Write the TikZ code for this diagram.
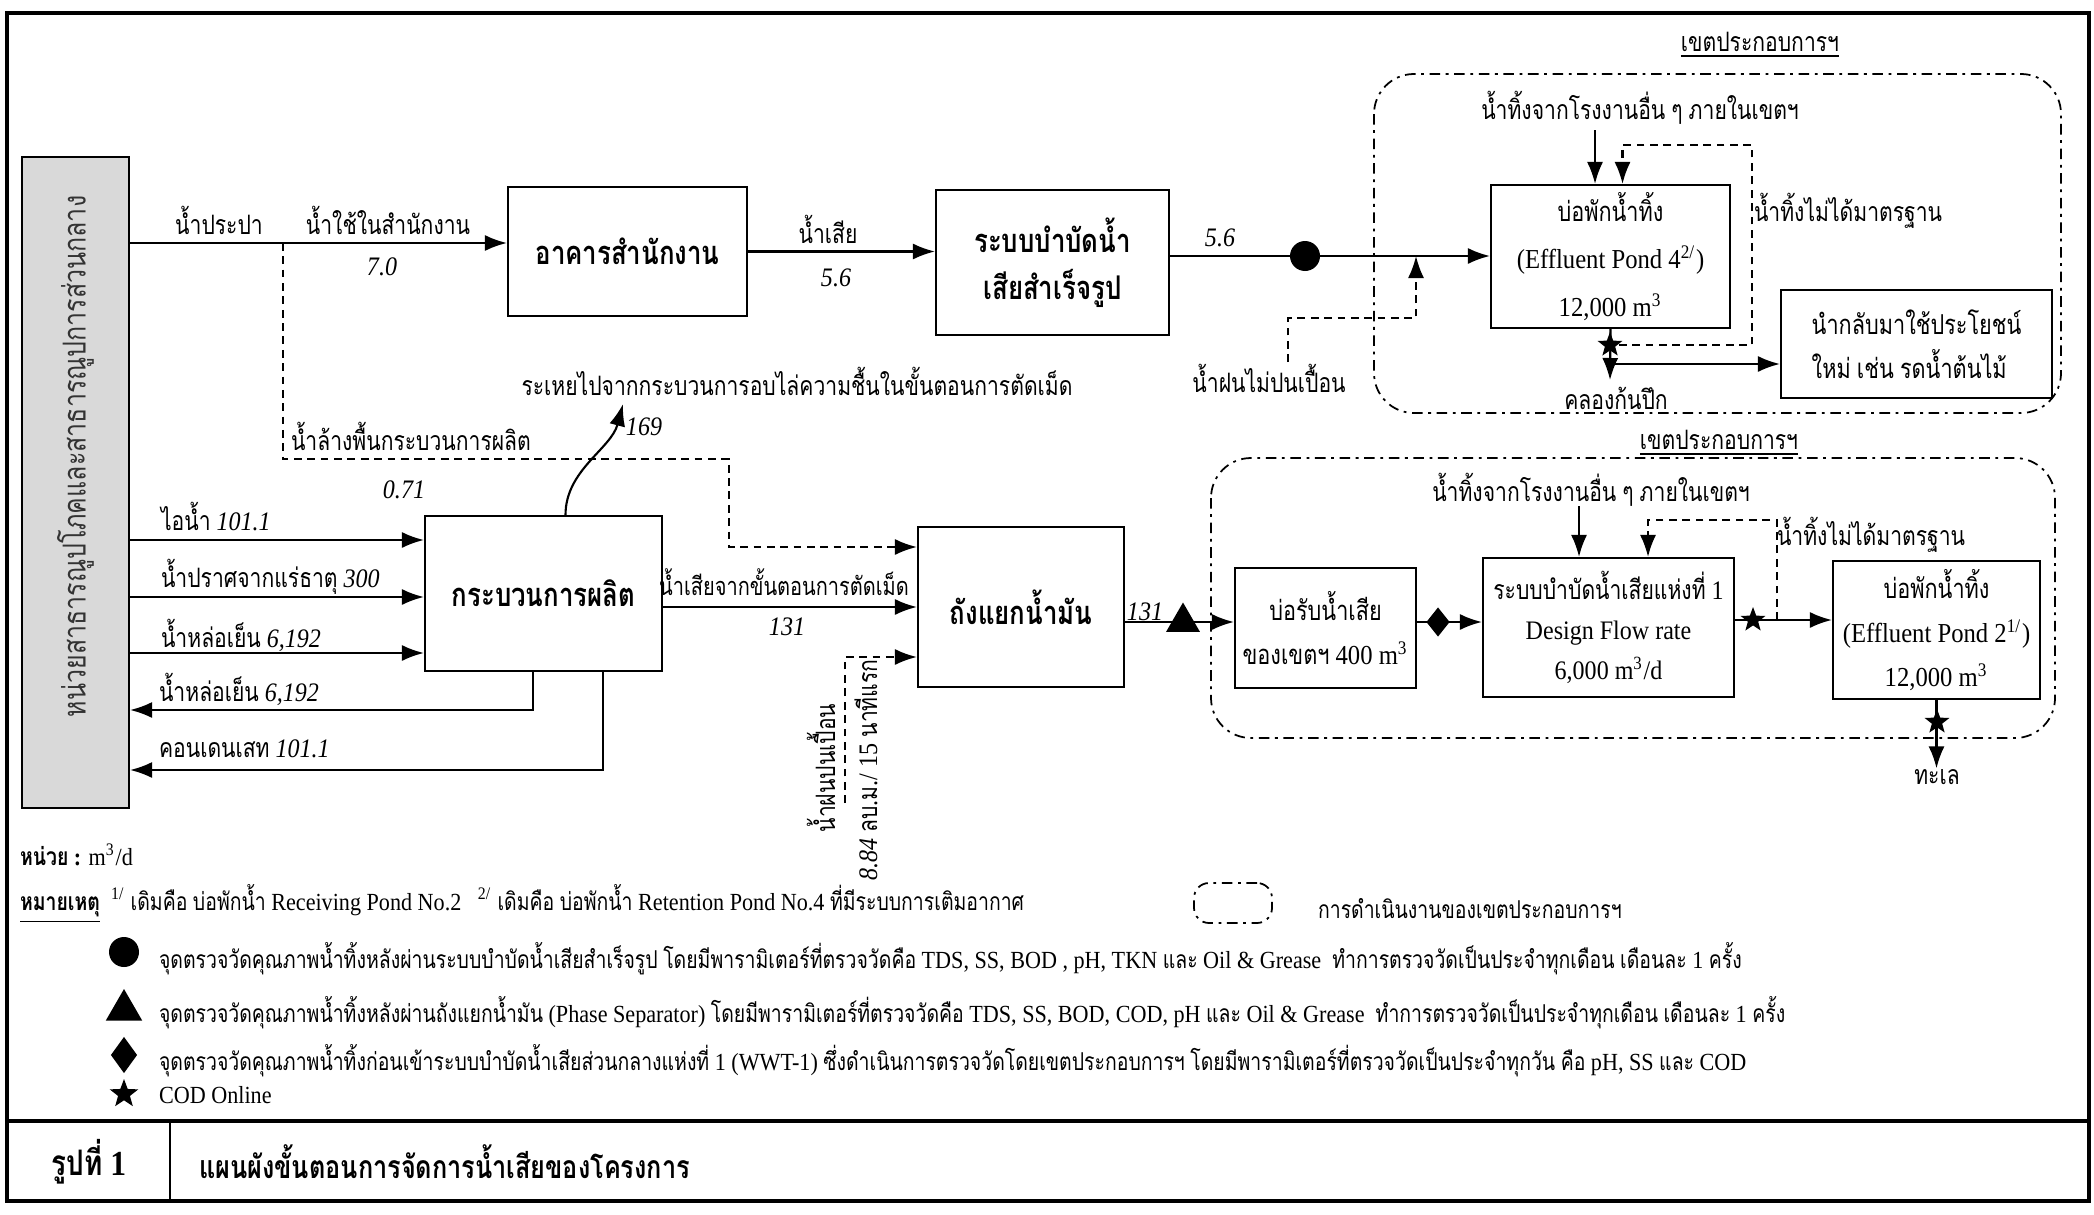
\documentclass[tikz,border=0pt]{standalone}
\usepackage{fontspec}
\setmainfont{Liberation Serif}[FakeStretch=0.9]
\newfontfamily\thaifont[Script=Thai,FakeStretch=0.79]{Loma}
\usetikzlibrary{arrows.meta,shapes.geometric}
% Thai letters switch to the Thai font on their own
\XeTeXinterchartokenstate=1
\newXeTeXintercharclass\thcls
\count255="0E00
\loop\ifnum\count255<"0E80
  \XeTeXcharclass\count255=\thcls
  \advance\count255 by 1
\repeat
\XeTeXinterchartoks 0 \thcls = {\thaifont}
\XeTeXinterchartoks 4095 \thcls = {\thaifont}
\XeTeXinterchartoks \thcls 0 = {\rmfamily}
\XeTeXinterchartoks \thcls 4095 = {\rmfamily}

\tikzset{
  box/.style={draw,line width=0.6pt,inner sep=0pt,align=center},
  boxlbl/.style={font=\bfseries\fontsize{9.3}{13.4}\selectfont},
  boxtxt/.style={font=\fontsize{7.8}{12.4}\selectfont},
  lbl/.style={font=\fontsize{7.6}{9}\selectfont,inner sep=0pt},
  keytxt/.style={font=\fontsize{7}{9}\selectfont,inner sep=0pt,anchor=base west},
  arr/.style={line width=0.6pt,-{Latex[length=2.2mm,width=1.6mm]}},
  darr/.style={arr,dash pattern=on 2.2pt off 1.6pt},
  zone/.style={draw,line width=0.5pt,dash pattern=on 3pt off 1.6pt on 0.8pt off 1.6pt,rounded corners=4mm},
  dot/.style={circle,fill=black,inner sep=0pt,minimum size=3mm},
  trim/.style={regular polygon,regular polygon sides=3,fill=black,inner sep=0pt,minimum size=3.9mm},
  diam/.style={diamond,fill=black,inner sep=0pt,minimum width=2.4mm,minimum height=3mm},
  starm/.style={star,star points=5,star point ratio=2.4,fill=black,inner sep=0pt,minimum size=2.6mm}
}

\begin{document}
\begin{tikzpicture}[x=0.1mm,y=-0.1mm,line width=0.6pt]
\useasboundingbox (0,0) rectangle (2094,1214);
% frame and title bar
\draw[line width=1.4pt] (7,13) rectangle (2089,1201);
\draw[line width=1.4pt] (7,1121) -- (2089,1121);
\draw[line width=0.8pt] (170,1121) -- (170,1201);
\node[font=\bfseries\fontsize{10}{12}\selectfont] (fignum) at (89,1162) {รูปที่ 1};
\node[font=\bfseries\fontsize{9.1}{12}\selectfont,anchor=west,inner sep=0pt] (figttl) at (198,1162) {แผนผังขั้นตอนการจัดการน้ำเสียของโครงการ};

% boxes
\node[box,fill=gray!30,minimum width=10.7mm,minimum height=65.1mm] (util) at (75.5,482.5) {};
\node[font=\fontsize{9}{11}\selectfont,text=black!80,rotate=90] (utiltxt) at ([yshift=2.6mm]util.center) {หน่วยสาธารณูปโภคและสาธารณูปการส่วนกลาง};
\node[box,boxlbl,minimum width=23.9mm,minimum height=12.9mm] (office) at (627.5,251.5) {อาคารสำนักงาน};
\node[box,boxlbl,minimum width=23.3mm,minimum height=14.5mm] (pkg) at (1052.5,262.5) {ระบบบำบัดน้ำ\\เสียสำเร็จรูป};
\node[box,boxtxt,font=\fontsize{7.8}{13.6}\selectfont,minimum width=23.9mm,minimum height=14.3mm] (pond4) at (1610.5,256.5) {บ่อพักน้ำทิ้ง\\(Effluent Pond 4\textsuperscript{2/})\\12,000 m\textsuperscript{3}};
\node[box,boxtxt,align=left,minimum width=27.1mm,minimum height=10.8mm] (reuse) at (1916.5,344) {นำกลับมาใช้ประโยชน์\\ใหม่ เช่น รดน้ำต้นไม้};
\node[box,boxlbl,minimum width=23.7mm,minimum height=15.5mm] (proc) at (543.5,593.5) {กระบวนการผลิต};
\node[box,boxlbl,minimum width=20.6mm,minimum height=16mm] (sep) at (1021,607) {ถังแยกน้ำมัน};
\node[box,boxtxt,minimum width=18.1mm,minimum height=12mm] (recv) at (1325.5,628) {บ่อรับน้ำเสีย\\ของเขตฯ 400 m\textsuperscript{3}};
\node[box,boxtxt,font=\fontsize{7.6}{11.4}\selectfont,minimum width=25.1mm,minimum height=13.9mm] (wwt) at (1608.5,627.5) {ระบบบำบัดน้ำเสียแห่งที่ 1\\Design Flow rate\\6,000 m\textsuperscript{3}/d};
\node[box,boxtxt,minimum width=20.7mm,minimum height=13.8mm] (pond2) at (1936.5,630) {บ่อพักน้ำทิ้ง\\(Effluent Pond 2\textsuperscript{1/})\\12,000 m\textsuperscript{3}};

% zones
\draw[zone] (1374,74) rectangle (2061,413);
\draw[zone] (1211,458) rectangle (2055,738);
\node[lbl] (zoneA) at (1760,45) {\underline{เขตประกอบการฯ}};
\node[lbl] (zoneB) at (1719,443) {\underline{เขตประกอบการฯ}};

% check points
\node[dot] (chkA) at (1305,256) {};
\node[trim] (chkB) at (1183,622) {};
\node[diam] (chkC) at (1438,622) {};
\node[starm] (codA) at (1610,345) {};
\node[starm] (codB) at (1753,620) {};
\node[starm] (codC) at (1937,722) {};

% labels
\node[lbl] (tapLbl) at (219,220) {น้ำประปา};
\node[lbl] (offLbl) at (388,220) {น้ำใช้ในสำนักงาน};
\node[lbl] (v70) at (382,267) {\textit{7.0}};
\node[lbl] (wwLbl) at (828,229) {น้ำเสีย};
\node[lbl] (v56a) at (836,278) {\textit{5.6}};
\node[lbl] (v56b) at (1220,238) {\textit{5.6}};
\node[lbl] (rainLbl) at (1269,378) {น้ำฝนไม่ปนเปื้อน};
\node[lbl] (othA) at (1640,108) {น้ำทิ้งจากโรงงานอื่น ๆ ภายในเขตฯ};
\node[lbl] (badA) at (1848,211) {น้ำทิ้งไม่ได้มาตรฐาน};
\node[lbl] (klong) at (1616,398) {คลองก้นปึก};
\node[lbl] (evap) at (797,381) {ระเหยไปจากกระบวนการอบไล่ความชื้นในขั้นตอนการตัดเม็ด};
\node[lbl] (v169) at (644,427) {\textit{169}};
\node[lbl,anchor=base west] (washLbl) at (290,450) {น้ำล้างพื้นกระบวนการผลิต};
\node[lbl] (v071) at (404,490) {\textit{0.71}};
\node[lbl,anchor=base west] (steam) at (160,530) {ไอน้ำ \textit{101.1}};
\node[lbl,anchor=base west] (demin) at (160,587) {น้ำปราศจากแร่ธาตุ \textit{300}};
\node[lbl,anchor=base west] (coolIn) at (160,647) {น้ำหล่อเย็น \textit{6,192}};
\node[lbl,anchor=base west] (coolOut) at (158,701) {น้ำหล่อเย็น \textit{6,192}};
\node[lbl,anchor=base west] (cond) at (158,757) {คอนเดนเสท \textit{101.1}};
\node[lbl,font=\fontsize{7.2}{9}\selectfont] (cutLbl) at (784,582) {น้ำเสียจากขั้นตอนการตัดเม็ด};
\node[lbl] (v131a) at (787,627) {\textit{131}};
\node[lbl,rotate=90] (rainLowA) at (821,768) {น้ำฝนปนเปื้อน};
\node[lbl,rotate=90] (rainLowB) at (866,770) {\textit{8.84} ลบ.ม./ 15 นาทีแรก};
\node[lbl] (v131b) at (1145,612) {\textit{131}};
\node[lbl] (othB) at (1591,490) {น้ำทิ้งจากโรงงานอื่น ๆ ภายในเขตฯ};
\node[lbl] (badB) at (1871,535) {น้ำทิ้งไม่ได้มาตรฐาน};
\node[lbl] (sea) at (1937,777) {ทะเล};

% office line
\coordinate (tapW) at (283,243);
\draw[arr] (util.east |- tapW) -- (office.west |- tapW);
\draw[arr] (office.east) -- (office.east -| pkg.west);
\draw[arr] (pkg.east |- chkA) -- (pond4.west |- chkA);
\coordinate (rainA) at (1288,362);
\coordinate (rainK) at (1416,318);
\draw[darr] (rainA) |- (rainK) -- (rainK |- chkA);
\coordinate (inA) at (1595,130);
\draw[arr] (inA) -- (inA |- pond4.north);
\coordinate (klongIn) at (1610,380);
\draw[arr] (pond4.south) -- (klongIn);
\coordinate (br4) at (1610,364);
\draw[arr] (br4) -- (br4 -| reuse.west);
\coordinate (lpA) at (1752,145);
\draw[darr] (codA) -| (lpA) -| ([xshift=1.2mm]pond4.north);

% production
\foreach \yy in {540,597,653}
  \draw[arr] (util.east |- 0,\yy) -- (proc.west |- 0,\yy);
\coordinate (coolK) at (533,710);
\coordinate (condK) at (603,770);
\draw[arr] (coolK |- proc.south) |- (util.east |- coolK);
\draw[arr] (condK |- proc.south) |- (util.east |- condK);
\coordinate (evTip) at (623,404);
\draw[arr] ([xshift=2.2mm]proc.north) .. controls +(0,-45) and +(-12,45) .. (evTip);
\coordinate (washK) at (729,459);
\draw[darr] (tapW) |- (washK) |- ([yshift=6mm]sep.west);
\coordinate (rainB) at (845,803);
\draw[darr] (rainB) |- ([yshift=-5mm]sep.west);
\draw[arr] (proc.east |- sep) -- (sep.west);

% central treatment
\draw[arr] (sep.east |- chkB) -- (recv.west |- chkB);
\draw[arr] (recv.east |- chkC) -- (wwt.west |- chkC);
\draw[arr] (wwt.east |- codB) -- (pond2.west |- codB);
\coordinate (lpB) at (1648,520);
\draw[darr] ([xshift=2.4mm]codB.center) |- (lpB) -- (lpB |- wwt.north);
\coordinate (inB) at (1579,506);
\draw[arr] (inB) -- (inB |- wwt.north);
\draw[arr] (pond2.south) -- (pond2.south |- sea.north);

% notes
\node[lbl,anchor=west,font=\fontsize{7}{9}\selectfont] (unit) at (19,855) {\textbf{หน่วย :} m\textsuperscript{3}/d};
\node[keytxt] (notes) at (19,910) {\textbf{\underline{หมายเหตุ}}\ \ \textsuperscript{1/} เดิมคือ บ่อพักน้ำ Receiving Pond No.2\ \ \ \textsuperscript{2/} เดิมคือ บ่อพักน้ำ Retention Pond No.4 ที่มีระบบการเติมอากาศ};
\node[zone,rounded corners=1.5mm,minimum width=7.8mm,minimum height=4mm] (keyZone) at (1233,903) {};
\node[keytxt] (keyZoneLbl) at (1317,918) {การดำเนินงานของเขตประกอบการฯ};
\node[dot] (keyA) at (124,952) {};
\node[trim,minimum size=4.2mm] (keyB) at (124,1010) {};
\node[diam,minimum width=2.7mm,minimum height=3.7mm] (keyC) at (124,1055) {};
\node[starm,minimum size=3mm] (keyD) at (124,1094) {};
\node[keytxt] (keyAtxt) at (158,968) {จุดตรวจวัดคุณภาพน้ำทิ้งหลังผ่านระบบบำบัดน้ำเสียสำเร็จรูป โดยมีพารามิเตอร์ที่ตรวจวัดคือ TDS, SS, BOD , pH, TKN และ Oil \& Grease\ \ ทำการตรวจวัดเป็นประจำทุกเดือน เดือนละ 1 ครั้ง};
\node[keytxt] (keyBtxt) at (158,1022) {จุดตรวจวัดคุณภาพน้ำทิ้งหลังผ่านถังแยกน้ำมัน (Phase Separator) โดยมีพารามิเตอร์ที่ตรวจวัดคือ TDS, SS, BOD, COD, pH และ Oil \& Grease\ \ ทำการตรวจวัดเป็นประจำทุกเดือน เดือนละ 1 ครั้ง};
\node[keytxt] (keyCtxt) at (158,1070) {จุดตรวจวัดคุณภาพน้ำทิ้งก่อนเข้าระบบบำบัดน้ำเสียส่วนกลางแห่งที่ 1 (WWT-1) ซึ่งดำเนินการตรวจวัดโดยเขตประกอบการฯ โดยมีพารามิเตอร์ที่ตรวจวัดเป็นประจำทุกวัน คือ pH, SS และ COD};
\node[keytxt] (keyDtxt) at (158,1103) {COD Online};
\end{tikzpicture}
\end{document}
